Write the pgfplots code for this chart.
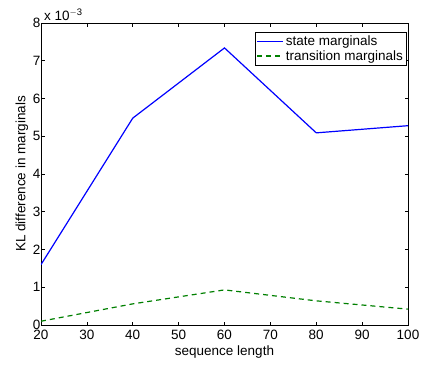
\documentclass[border=0pt]{standalone}
\usepackage{pgfplots}
\pgfplotsset{compat=1.18}
\usepackage{fontspec}
\setmainfont{Liberation Sans}
\definecolor{mblue}{RGB}{0,0,255}
\definecolor{mgreen}{RGB}{0,128,0}
\begin{document}
\begin{tikzpicture}[x=1pt,y=1pt]
\path[use as bounding box] (-41,-39) rectangle (381,325);
\begin{axis}[
  at={(0,0)}, anchor=south west,
  scale only axis,
  width=367pt, height=302pt,
  xmin=20, xmax=100, ymin=0, ymax=0.008,
  xtick={20,30,...,100},
  ytick={0,0.001,...,0.008},
  scaled y ticks=base 10:3,
  ytick scale label code/.code={x 10$^{\mathrm{#1}}$},
  every y tick scale label/.style={at={(rel axis cs:0,1)},anchor=south west,xshift=0pt,yshift=2pt,inner sep=0pt,font=\fontsize{13.5}{15}\selectfont},
  tick align=inside,
  major tick length=3.5pt,
  axis line style={line width=0.9pt},
  every tick/.style={black,line width=0.6pt},
  /pgf/number format/assume math mode=true,
  tick label style={font=\fontsize{13.5}{15}\selectfont},
  label style={font=\fontsize{13.5}{15}\selectfont},
  xlabel={sequence length},
  ylabel={KL difference in marginals},
  xlabel style={yshift=1pt},
  ylabel style={yshift=-2pt},
  xticklabel style={yshift=-1.5pt},
  yticklabel style={xshift=3pt},
  legend style={at={(0.997,0.97)},anchor=north east,line width=0.8pt,
    font=\fontsize{13.5}{15}\selectfont,inner sep=1.5pt,row sep=-1pt},
  legend cell align=left,
]
\addlegendimage{legend image code/.code={\draw[mblue,line width=1.5pt] (0pt,0pt) -- (26pt,0pt);}}
\addlegendentry{state marginals}
\addlegendimage{legend image code/.code={\draw[mgreen,line width=1.5pt,dash pattern=on 5pt off 4pt] (0pt,0pt) -- (26pt,0pt);}}
\addlegendentry{transition marginals}
\addplot[color=mblue, line width=1.2pt, forget plot] coordinates {(20,0.00160) (40,0.00548) (60,0.00734) (80,0.00509) (100,0.00528)};
\addplot[color=mgreen, line width=1.2pt, dash pattern=on 5pt off 4pt, forget plot] coordinates {(20,0.00010) (40,0.00056) (60,0.00093) (80,0.00064) (100,0.00042)};
\end{axis}
\end{tikzpicture}
\end{document}
